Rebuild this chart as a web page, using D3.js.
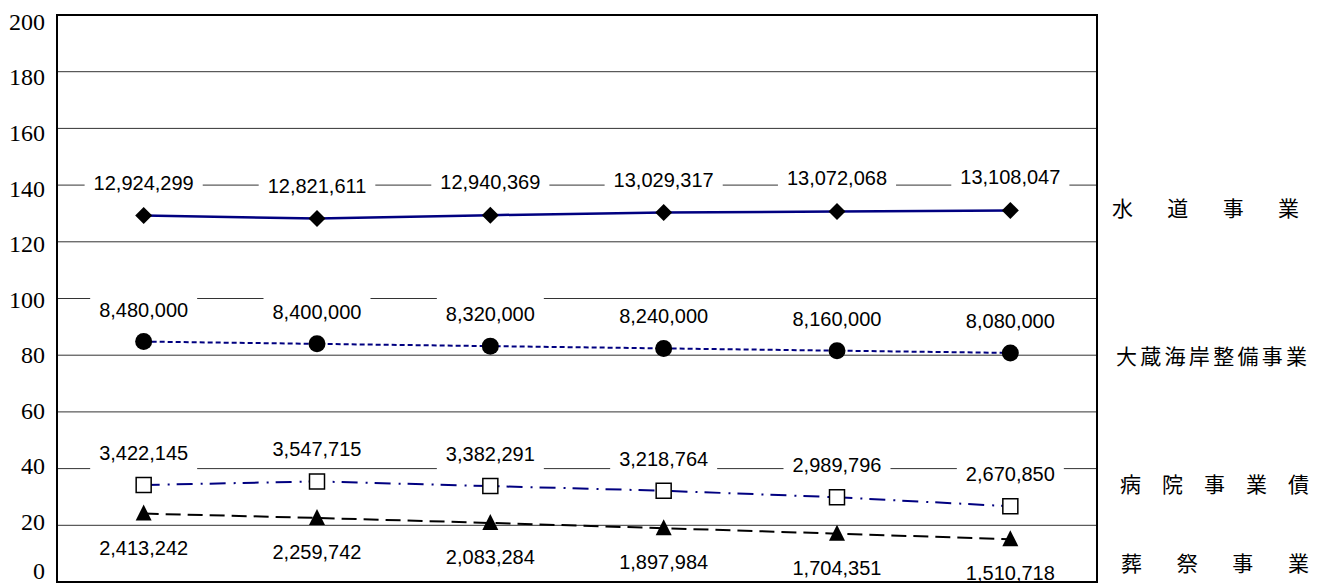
<!DOCTYPE html>
<html>
<head>
<meta charset="utf-8">
<script src="https://cdn.jsdelivr.net/npm/d3@7"></script>
<style>
  body { margin: 0; background: #fff; }
  svg { display: block; }
  .ytick text { font-family: "Liberation Serif", "DejaVu Serif", serif; font-size: 24px; }
</style>
</head>
<body>
<svg id="chart" width="1321" height="584"></svg>
<script>
// Outstanding balances (yen thousand) for six consecutive periods
const periods = [1, 2, 3, 4, 5, 6];
const waterWorks    = [12924299, 12821611, 12940369, 13029317, 13072068, 13108047];
const okuraCoast    = [8480000, 8400000, 8320000, 8240000, 8160000, 8080000];
const hospitalBonds = [3422145, 3547715, 3382291, 3218764, 2989796, 2670850];
const funeralWorks  = [2413242, 2259742, 2083284, 1897984, 1704351, 1510718];
const seriesNames = ["水道事業", "大蔵海岸整備事業", "病院事業債", "葬祭事業"];
const yTicks = [0, 20, 40, 60, 80, 100, 120, 140, 160, 180, 200];
const axisUnit = 100000;   // plotted value = balance / 100,000

const plot = { left: 57, right: 1097, top: 15, bottom: 582 };

const svg = d3.select("#chart");

const x = d3.scaleBand().domain(periods).range([plot.left, plot.right]);
const cx = p => x(p) + x.bandwidth() / 2;
const y = d3.scaleLinear().domain([0, 200]).range([plot.bottom, plot.top]);
// tick labels are spread slightly inside the frame; the lowest one is kept on the page
const yLabel = d3.scaleLinear().domain([0, 20, 200]).range([571, 521.7, 21.7]);

// gridlines
svg.append("g")
  .selectAll("line")
  .data(yTicks.filter(t => t > 0 && t < 200))
  .join("line")
  .attr("x1", plot.left).attr("x2", plot.right)
  .attr("y1", d => y(d)).attr("y2", d => y(d))
  .attr("stroke", "#333").attr("stroke-width", 1);

// y axis tick labels
const yAxis = svg.append("g")
  .attr("class", "ytick")
  .attr("transform", `translate(${plot.left - 12},0)`)
  .call(d3.axisLeft(yLabel).tickValues(yTicks).tickSize(0).tickPadding(0).tickFormat(d3.format("d")));
yAxis.attr("font-family", null).attr("font-size", null);
yAxis.select(".domain").remove();
yAxis.selectAll("text").attr("fill", "#000");

// symbol shapes
const symbols = {
  diamond: "M0,-8.5L8.5,0L0,8.5L-8.5,0Z",
  square: "M-7.5,-7.5H7.5V7.5H-7.5Z",
  triangle: "M0,-9L8,7L-8,7Z",
  circle: d3.symbol().type(d3.symbolCircle).size(Math.PI * 8.5 * 8.5)()
};

const series = [
  { name: seriesNames[0], values: waterWorks, color: "#000080", width: 2.5, dash: null,
    symbol: "diamond", fill: "#000", labelOffset: -33, legendY: 207, legendX: 1112, legendLen: 187 },
  { name: seriesNames[1], values: okuraCoast, color: "#000080", width: 2, dash: "5,3",
    symbol: "circle", fill: "#000", labelOffset: -32, legendY: 355, legendX: 1116, legendLen: 191 },
  { name: seriesNames[2], values: hospitalBonds, color: "#000080", width: 2, dash: "16,8,2,7",
    symbol: "square", fill: "#fff", labelOffset: -32, legendY: 483, legendX: 1120, legendLen: 189 },
  { name: seriesNames[3], values: funeralWorks, color: "#000", width: 2, dash: "15,7",
    symbol: "triangle", fill: "#000", labelOffset: 34, legendY: 562, legendX: 1121, legendLen: 188 }
];

const fmt = d3.format(",");

// value labels on white boxes
const labelLayer = svg.append("g");
series.forEach(s => {
  s.values.forEach((v, i) => {
    const g = labelLayer.append("g");
    const px = cx(periods[i]);
    const py = y(v / axisUnit) + s.labelOffset;
    const rect = g.append("rect").attr("fill", "#fff");
    const t = g.append("text")
      .attr("x", px).attr("y", py)
      .attr("text-anchor", "middle")
      .attr("dominant-baseline", "central")
      .style("font-family", "'Liberation Sans', Arial, sans-serif")
      .style("font-size", "20px")
      .attr("fill", "#000")
      .text(fmt(v));
    const bb = t.node().getBBox();
    rect.attr("x", bb.x - 9).attr("width", bb.width + 18)
        .attr("y", py - 17).attr("height", 34);
  });
});

// series lines and markers
const line = d3.line().x((d, i) => cx(periods[i])).y(d => y(d / axisUnit));
series.forEach(s => {
  svg.append("path")
    .datum(s.values)
    .attr("d", line)
    .attr("fill", "none")
    .attr("stroke", s.color)
    .attr("stroke-width", s.width)
    .attr("stroke-dasharray", s.dash);
  svg.append("g")
    .selectAll("path")
    .data(s.values)
    .join("path")
    .attr("transform", (d, i) => `translate(${cx(periods[i])},${y(d / axisUnit)})`)
    .attr("d", symbols[s.symbol])
    .attr("fill", s.fill)
    .attr("stroke", "#000")
    .attr("stroke-width", s.fill === "#fff" ? 1.5 : 0);
});

// plot frame
svg.append("rect")
  .attr("x", plot.left).attr("y", plot.top)
  .attr("width", plot.right - plot.left).attr("height", plot.bottom - plot.top)
  .attr("fill", "none").attr("stroke", "#000").attr("stroke-width", 2);

// series names at the right
svg.append("g")
  .selectAll("text")
  .data(series)
  .join("text")
  .attr("x", d => d.legendX)
  .attr("y", d => d.legendY)
  .attr("dominant-baseline", "central")
  .attr("textLength", d => d.legendLen)
  .attr("lengthAdjust", "spacing")
  .style("font-family", "'Noto Sans CJK JP', 'Noto Sans CJK SC', sans-serif")
  .style("font-size", "21px")
  .attr("fill", "#000")
  .text(d => d.name);
</script>
</body>
</html>
